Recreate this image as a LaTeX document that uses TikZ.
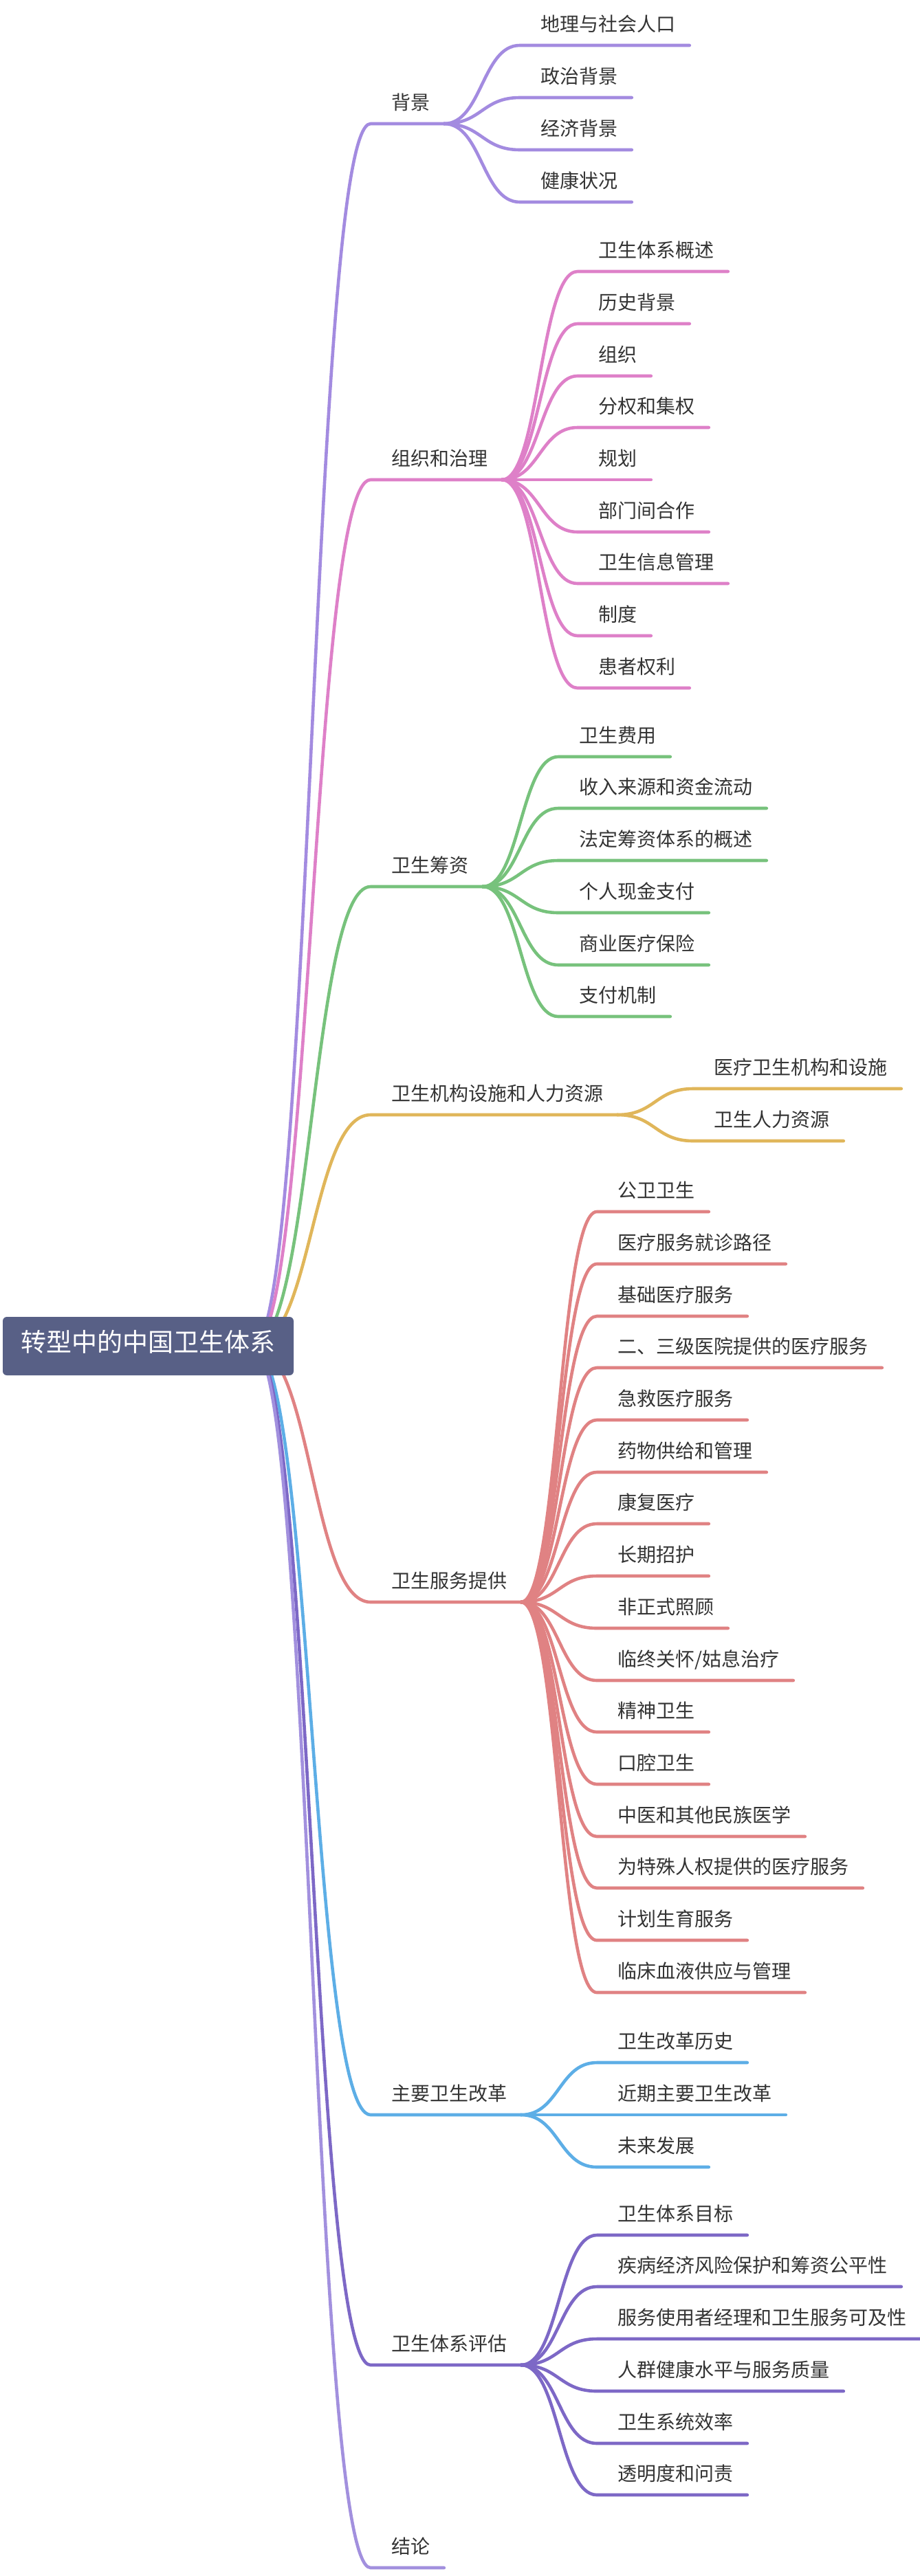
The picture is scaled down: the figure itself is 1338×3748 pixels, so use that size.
\documentclass[tikz,border=0pt]{standalone}
\usepackage{fontspec}
\newfontfamily\cjk{Noto Sans CJK SC}
\usepackage{tikz}
\definecolor{c1}{HTML}{A38BE0}
\definecolor{c2}{HTML}{DE80C8}
\definecolor{c3}{HTML}{77C27C}
\definecolor{c4}{HTML}{E0B65A}
\definecolor{c5}{HTML}{E08283}
\definecolor{c6}{HTML}{5DAEE6}
\definecolor{c7}{HTML}{7D68C6}
\definecolor{c8}{HTML}{A290DE}
\definecolor{rootbg}{HTML}{586086}
\definecolor{txt}{HTML}{333333}
\begin{document}
\begin{tikzpicture}[x=0.5pt,y=-0.5pt]
\tikzstyle{every node}=[inner sep=0,anchor=west,text=txt,text height=0.84em,text depth=0.08em,font=\cjk\fontsize{14}{16}\selectfont];
\tikzstyle{branch}=[line width=2.3pt,line cap=round];
\useasboundingbox (0,0) rectangle (1338,3748);
% main topics
\node (p1) at (569,152) {背景};
\node (p2) at (569,670) {组织和治理};
\node (p3) at (569,1262) {卫生筹资};
\node (p4) at (569,1594) {卫生机构设施和人力资源};
\node (p5) at (569,2303) {卫生服务提供};
\node (p6) at (569,3049) {主要卫生改革};
\node (p7) at (569,3413) {卫生体系评估};
\node (p8) at (569,3708) {结论};
% subtopics
\node (p1a) at (786,38) {地理与社会人口};
\node (p1b) at (786,114) {政治背景};
\node (p1c) at (786,190) {经济背景};
\node (p1d) at (786,266) {健康状况};
\node (p2a) at (870,367) {卫生体系概述};
\node (p2b) at (870,443) {历史背景};
\node (p2c) at (870,519) {组织};
\node (p2d) at (870,594) {分权和集权};
\node (p2e) at (870,670) {规划};
\node (p2f) at (870,746) {部门间合作};
\node (p2g) at (870,821) {卫生信息管理};
\node (p2h) at (870,897) {制度};
\node (p2i) at (870,973) {患者权利};
\node (p3a) at (842,1073) {卫生费用};
\node (p3b) at (842,1148) {收入来源和资金流动};
\node (p3c) at (842,1224) {法定筹资体系的概述};
\node (p3d) at (842,1300) {个人现金支付};
\node (p3e) at (842,1376) {商业医疗保险};
\node (p3f) at (842,1451) {支付机制};
\node (p4a) at (1038,1556) {医疗卫生机构和设施};
\node (p4b) at (1038,1632) {卫生人力资源};
\node (p5a) at (898,1735) {公卫卫生};
\node (p5b) at (898,1811) {医疗服务就诊路径};
\node (p5c) at (898,1887) {基础医疗服务};
\node (p5d) at (898,1962) {二、三级医院提供的医疗服务};
\node (p5e) at (898,2038) {急救医疗服务};
\node (p5f) at (898,2114) {药物供给和管理};
\node (p5g) at (898,2189) {康复医疗};
\node (p5h) at (898,2265) {长期招护};
\node (p5i) at (898,2341) {非正式照顾};
\node (p5j) at (898,2417) {临终关怀/姑息治疗};
\node (p5k) at (898,2492) {精神卫生};
\node (p5l) at (898,2568) {口腔卫生};
\node (p5m) at (898,2644) {中医和其他民族医学};
\node (p5n) at (898,2719) {为特殊人权提供的医疗服务};
\node (p5o) at (898,2795) {计划生育服务};
\node (p5p) at (898,2871) {临床血液供应与管理};
\node (p6a) at (898,2973) {卫生改革历史};
\node (p6b) at (898,3049) {近期主要卫生改革};
\node (p6c) at (898,3125) {未来发展};
\node (p7a) at (898,3224) {卫生体系目标};
\node (p7b) at (898,3299) {疾病经济风险保护和筹资公平性};
\node (p7c) at (898,3375) {服务使用者经理和卫生服务可及性};
\node (p7d) at (898,3451) {人群健康水平与服务质量};
\node (p7e) at (898,3527) {卫生系统效率};
\node (p7f) at (898,3602) {透明度和问责};
% branches
\coordinate (r0) at (368,1958);
\foreach \n/\c in {p1/c1,p2/c2,p3/c3,p4/c4,p5/c5,p6/c6,p7/c7,p8/c8}
  \draw[branch,draw=\c] (r0) .. controls +(86,0) and +(-86,0) .. ([shift={(-30,28)}]\n.west) -- ([shift={(20,28)}]\n.east);
\foreach \n in {p1a,p1b,p1c,p1d}
  \draw[branch,draw=c1] ([shift={(20,28)}]p1.east) .. controls +(55,0) and +(-55,0) .. ([shift={(-30,28)}]\n.west) -- ([shift={(20,28)}]\n.east);
\foreach \n in {p2a,p2b,p2c,p2d,p2e,p2f,p2g,p2h,p2i}
  \draw[branch,draw=c2] ([shift={(20,28)}]p2.east) .. controls +(55,0) and +(-55,0) .. ([shift={(-30,28)}]\n.west) -- ([shift={(20,28)}]\n.east);
\foreach \n in {p3a,p3b,p3c,p3d,p3e,p3f}
  \draw[branch,draw=c3] ([shift={(20,28)}]p3.east) .. controls +(55,0) and +(-55,0) .. ([shift={(-30,28)}]\n.west) -- ([shift={(20,28)}]\n.east);
\foreach \n in {p4a,p4b}
  \draw[branch,draw=c4] ([shift={(20,28)}]p4.east) .. controls +(55,0) and +(-55,0) .. ([shift={(-30,28)}]\n.west) -- ([shift={(20,28)}]\n.east);
\foreach \n in {p5a,p5b,p5c,p5d,p5e,p5f,p5g,p5h,p5i,p5j,p5k,p5l,p5m,p5n,p5o,p5p}
  \draw[branch,draw=c5] ([shift={(20,28)}]p5.east) .. controls +(55,0) and +(-55,0) .. ([shift={(-30,28)}]\n.west) -- ([shift={(20,28)}]\n.east);
\foreach \n in {p6a,p6b,p6c}
  \draw[branch,draw=c6] ([shift={(20,28)}]p6.east) .. controls +(55,0) and +(-55,0) .. ([shift={(-30,28)}]\n.west) -- ([shift={(20,28)}]\n.east);
\foreach \n in {p7a,p7b,p7c,p7d,p7e,p7f}
  \draw[branch,draw=c7] ([shift={(20,28)}]p7.east) .. controls +(55,0) and +(-55,0) .. ([shift={(-30,28)}]\n.west) -- ([shift={(20,28)}]\n.east);
% root
\node[fill=rootbg,text=white,rounded corners=3pt,anchor=center,minimum width=211.5pt,minimum height=42.5pt,font=\cjk\fontsize{18.5}{22}\selectfont] (r) at (215.5,1958.5) {转型中的中国卫生体系};
\end{tikzpicture}
\end{document}
